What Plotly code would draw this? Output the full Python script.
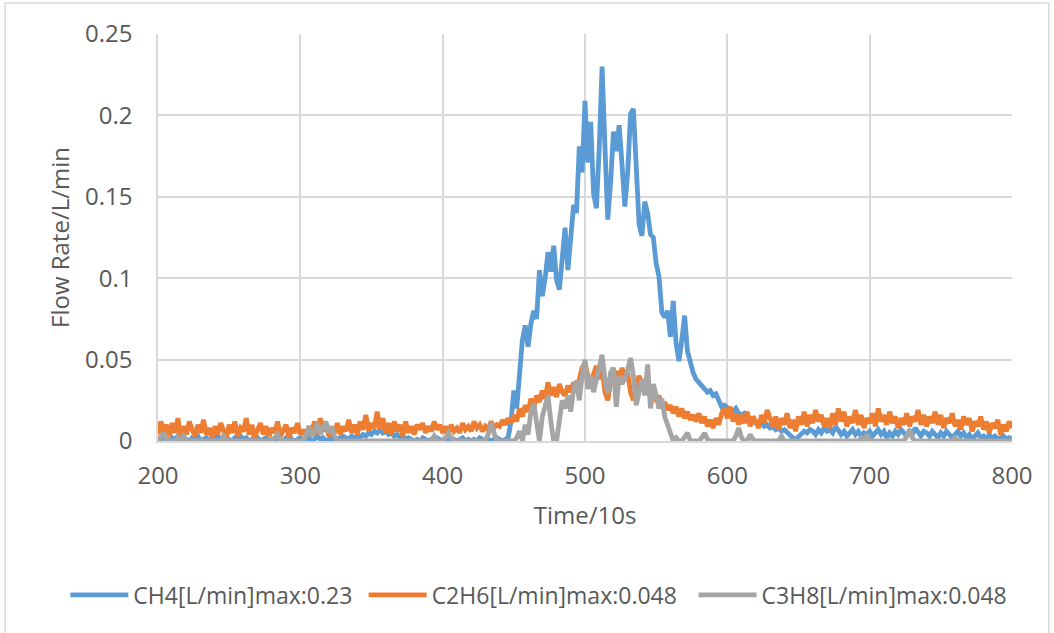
import plotly.graph_objects as go

TIME = list(range(200, 801, 2))

CH4 = [
    0.002, 0.000, 0.003, 0.001, 0.000, 0.002, 0.001, 0.003, 0.000, 0.002,
    0.001, 0.000, 0.002, 0.001, 0.003, 0.000, 0.001, 0.002, 0.000, 0.001,
    0.002, 0.003, 0.001, 0.000, 0.002, 0.001, 0.000, 0.002, 0.001, 0.003,
    0.001, 0.002, 0.000, 0.001, 0.003, 0.002, 0.000, 0.001, 0.002, 0.000,
    0.001, 0.000, 0.002, 0.001, 0.000, 0.002, 0.003, 0.001, 0.000, 0.001,
    0.002, 0.000, 0.001, 0.002, 0.000, 0.001, 0.003, 0.001, 0.002, 0.000,
    0.001, 0.002, 0.000, 0.001, 0.002, 0.003, 0.002, 0.001, 0.003, 0.002,
    0.003, 0.002, 0.004, 0.003, 0.005, 0.004, 0.006, 0.005, 0.007, 0.005,
    0.006, 0.004, 0.005, 0.003, 0.004, 0.002, 0.003, 0.001, 0.002, 0.001,
    0.000, 0.001, 0.000, 0.002, 0.001, 0.000, 0.001, 0.000, 0.002, 0.001,
    0.000, 0.001, 0.002, 0.000, 0.001, 0.000, 0.001, 0.002, 0.000, 0.001,
    0.000, 0.001, 0.000, 0.002, 0.001, 0.000, 0.001, 0.000, 0.001, 0.002,
    0.001, 0.000, 0.001, 0.002, 0.012, 0.031, 0.020, 0.042, 0.062, 0.071,
    0.058, 0.072, 0.080, 0.075, 0.105, 0.089, 0.100, 0.116, 0.104, 0.120,
    0.099, 0.093, 0.110, 0.131, 0.105, 0.128, 0.145, 0.140, 0.181, 0.165,
    0.209, 0.171, 0.196, 0.152, 0.143, 0.180, 0.230, 0.181, 0.136, 0.159,
    0.190, 0.178, 0.194, 0.170, 0.144, 0.165, 0.201, 0.204, 0.171, 0.133,
    0.126, 0.147, 0.140, 0.127, 0.125, 0.109, 0.101, 0.079, 0.076, 0.080,
    0.064, 0.086, 0.060, 0.049, 0.062, 0.077, 0.055, 0.048, 0.042, 0.038,
    0.036, 0.034, 0.033, 0.030, 0.031, 0.028, 0.029, 0.024, 0.021, 0.022,
    0.020, 0.019, 0.018, 0.020, 0.017, 0.016, 0.017, 0.015, 0.013, 0.012,
    0.011, 0.010, 0.011, 0.009, 0.010, 0.008, 0.009, 0.007, 0.008, 0.006,
    0.007, 0.005, 0.004, 0.002, 0.001, 0.003, 0.004, 0.006, 0.005, 0.007,
    0.006, 0.004, 0.007, 0.005, 0.008, 0.006, 0.007, 0.005, 0.009, 0.006,
    0.004, 0.006, 0.003, 0.005, 0.007, 0.004, 0.006, 0.003, 0.005, 0.004,
    0.006, 0.003, 0.005, 0.007, 0.004, 0.006, 0.002, 0.005, 0.003, 0.006,
    0.004, 0.007, 0.005, 0.003, 0.006, 0.004, 0.008, 0.005, 0.003, 0.006,
    0.005, 0.003, 0.006, 0.004, 0.002, 0.005, 0.003, 0.006, 0.004, 0.002,
    0.004, 0.006, 0.003, 0.005, 0.002, 0.004, 0.001, 0.003, 0.005, 0.002,
    0.003, 0.001, 0.004, 0.002, 0.003, 0.001, 0.002, 0.003, 0.001, 0.002,
    0.001,
]

C2H6 = [
    0.004, 0.012, 0.006, 0.010, 0.003, 0.011, 0.005, 0.014, 0.002, 0.009,
    0.004, 0.012, 0.007, 0.003, 0.010, 0.005, 0.013, 0.004, 0.008, 0.002,
    0.009, 0.004, 0.011, 0.006, 0.002, 0.010, 0.005, 0.012, 0.003, 0.008,
    0.006, 0.014, 0.004, 0.010, 0.002, 0.007, 0.011, 0.004, 0.009, 0.003,
    0.008, 0.005, 0.012, 0.003, 0.006, 0.010, 0.002, 0.008, 0.005, 0.011,
    0.004, 0.007, 0.003, 0.009, 0.006, 0.012, 0.004, 0.014, 0.006, 0.010,
    0.003, 0.008, 0.005, 0.011, 0.004, 0.009, 0.006, 0.013, 0.005, 0.010,
    0.004, 0.012, 0.007, 0.016, 0.006, 0.011, 0.008, 0.018, 0.007, 0.014,
    0.005, 0.011, 0.004, 0.012, 0.006, 0.010, 0.003, 0.012, 0.005, 0.009,
    0.004, 0.010, 0.007, 0.011, 0.005, 0.009, 0.006, 0.012, 0.007, 0.010,
    0.005, 0.009, 0.004, 0.010, 0.006, 0.008, 0.005, 0.011, 0.007, 0.009,
    0.006, 0.012, 0.008, 0.010, 0.006, 0.009, 0.007, 0.012, 0.008, 0.010,
    0.009, 0.013, 0.010, 0.014, 0.011, 0.016, 0.012, 0.020, 0.015, 0.022,
    0.018, 0.026, 0.020, 0.028, 0.024, 0.031, 0.026, 0.036, 0.028, 0.033,
    0.027, 0.035, 0.030, 0.028, 0.034, 0.030, 0.036, 0.032, 0.038, 0.045,
    0.048, 0.040, 0.036, 0.042, 0.046, 0.038, 0.044, 0.030, 0.025, 0.036,
    0.040, 0.043, 0.035, 0.045, 0.038, 0.042, 0.030, 0.025, 0.033, 0.040,
    0.036, 0.030, 0.034, 0.027, 0.030, 0.024, 0.028, 0.020, 0.024, 0.019,
    0.022, 0.017, 0.021, 0.015, 0.020, 0.014, 0.018, 0.013, 0.016, 0.012,
    0.017, 0.011, 0.015, 0.009, 0.013, 0.008, 0.014, 0.010, 0.017, 0.020,
    0.014, 0.021, 0.012, 0.017, 0.010, 0.016, 0.011, 0.018, 0.009, 0.015,
    0.012, 0.008, 0.016, 0.011, 0.019, 0.013, 0.009, 0.015, 0.007, 0.014,
    0.010, 0.017, 0.008, 0.013, 0.006, 0.015, 0.010, 0.018, 0.009, 0.016,
    0.011, 0.019, 0.012, 0.016, 0.009, 0.014, 0.008, 0.017, 0.010, 0.020,
    0.012, 0.018, 0.009, 0.015, 0.011, 0.019, 0.010, 0.016, 0.008, 0.014,
    0.011, 0.017, 0.009, 0.020, 0.012, 0.016, 0.010, 0.018, 0.011, 0.015,
    0.008, 0.014, 0.010, 0.017, 0.009, 0.015, 0.012, 0.019, 0.010, 0.016,
    0.009, 0.015, 0.011, 0.018, 0.010, 0.016, 0.008, 0.014, 0.011, 0.017,
    0.009, 0.013, 0.007, 0.015, 0.010, 0.014, 0.006, 0.012, 0.009, 0.015,
    0.007, 0.012, 0.005, 0.011, 0.008, 0.013, 0.004, 0.010, 0.006, 0.012,
    0.008,
]

C3H8 = [
    0.000, 0.002, 0.005, 0.001, 0.000, 0.000, 0.000, 0.002, 0.000, 0.003,
    0.000, 0.000, 0.000, 0.000, 0.000, 0.000, 0.000, 0.000, 0.000, 0.000,
    0.000, 0.000, 0.000, 0.003, 0.000, 0.000, 0.000, 0.000, 0.000, 0.000,
    0.000, 0.000, 0.000, 0.000, 0.000, 0.000, 0.000, 0.000, 0.000, 0.000,
    0.000, 0.002, 0.004, 0.000, 0.000, 0.000, 0.000, 0.000, 0.000, 0.000,
    0.000, 0.000, 0.004, 0.009, 0.003, 0.006, 0.011, 0.004, 0.008, 0.012,
    0.005, 0.009, 0.003, 0.000, 0.000, 0.000, 0.000, 0.000, 0.000, 0.000,
    0.000, 0.000, 0.000, 0.000, 0.000, 0.000, 0.000, 0.000, 0.000, 0.000,
    0.000, 0.000, 0.000, 0.000, 0.000, 0.000, 0.000, 0.000, 0.000, 0.000,
    0.000, 0.000, 0.000, 0.000, 0.000, 0.000, 0.000, 0.003, 0.000, 0.000,
    0.000, 0.002, 0.005, 0.002, 0.000, 0.000, 0.000, 0.000, 0.000, 0.000,
    0.000, 0.000, 0.000, 0.000, 0.000, 0.000, 0.004, 0.011, 0.005, 0.000,
    0.000, 0.000, 0.000, 0.000, 0.000, 0.000, 0.002, 0.006, 0.000, 0.010,
    0.004, 0.018, 0.023, 0.010, 0.000, 0.015, 0.022, 0.028, 0.012, 0.000,
    0.000, 0.012, 0.025, 0.020, 0.028, 0.018, 0.032, 0.037, 0.025, 0.040,
    0.050, 0.032, 0.040, 0.030, 0.038, 0.045, 0.053, 0.038, 0.029, 0.042,
    0.045, 0.021, 0.040, 0.035, 0.038, 0.044, 0.051, 0.040, 0.022, 0.030,
    0.038, 0.028, 0.047, 0.020, 0.035, 0.028, 0.020, 0.026, 0.015, 0.010,
    0.004, 0.000, 0.002, 0.000, 0.000, 0.003, 0.005, 0.000, 0.000, 0.000,
    0.000, 0.002, 0.005, 0.001, 0.000, 0.000, 0.000, 0.000, 0.000, 0.000,
    0.000, 0.000, 0.000, 0.003, 0.008, 0.002, 0.000, 0.000, 0.004, 0.001,
    0.000, 0.000, 0.000, 0.000, 0.000, 0.000, 0.000, 0.000, 0.000, 0.003,
    0.000, 0.000, 0.000, 0.000, 0.000, 0.000, 0.000, 0.000, 0.000, 0.000,
    0.000, 0.000, 0.000, 0.000, 0.000, 0.000, 0.000, 0.000, 0.000, 0.000,
    0.000, 0.000, 0.000, 0.000, 0.000, 0.000, 0.000, 0.002, 0.000, 0.004,
    0.000, 0.000, 0.000, 0.000, 0.000, 0.000, 0.000, 0.000, 0.000, 0.000,
    0.000, 0.000, 0.000, 0.003, 0.007, 0.002, 0.000, 0.000, 0.000, 0.000,
    0.000, 0.000, 0.000, 0.000, 0.000, 0.000, 0.000, 0.000, 0.000, 0.000,
    0.002, 0.000, 0.000, 0.000, 0.000, 0.000, 0.000, 0.000, 0.000, 0.000,
    0.000, 0.000, 0.000, 0.000, 0.000, 0.000, 0.000, 0.000, 0.000, 0.000,
    0.000,
]

SERIES = [
    ("CH4[L/min]max:0.23", CH4, "#5B9BD5", "legend"),
    ("C2H6[L/min]max:0.048", C2H6, "#ED7D31", "legend2"),
    ("C3H8[L/min]max:0.048", C3H8, "#A5A5A5", "legend3"),
]

X_TICKS = [200, 300, 400, 500, 600, 700, 800]
Y_TICKS = [0, 0.05, 0.1, 0.15, 0.2, 0.25]
Y_TICK_TEXT = ["0", "0.05", "0.1", "0.15", "0.2", "0.25"]

FONT = "Open Sans, Lato, sans-serif"
TXT = "#595959"
GRID = "#D9D9D9"

fig = go.Figure()
for name, vals, color, leg in SERIES:
    fig.add_trace(go.Scatter(
        x=TIME, y=vals, mode="lines", name=name, legend=leg,
        line=dict(color=color, width=4.8),
    ))


def legend_box(xpos):
    return dict(orientation="h", xref="container", yref="container",
                x=xpos, xanchor="left", y=0.06, yanchor="middle",
                font=dict(size=23, color=TXT), itemwidth=58,
                bgcolor="rgba(0,0,0,0)")


fig.update_layout(
    width=1054, height=633,
    margin=dict(l=158, r=42, t=34, b=192, autoexpand=False),
    paper_bgcolor="white", plot_bgcolor="white",
    font=dict(family=FONT, color=TXT, size=24),
    showlegend=True,
    legend=legend_box(0.062),
    legend2=legend_box(0.345),
    legend3=legend_box(0.658),
    xaxis=dict(range=[200, 800], tickvals=X_TICKS, showgrid=True, gridcolor=GRID,
               gridwidth=1.5, zeroline=False, showline=True, linecolor=GRID, linewidth=1.5,
               ticks="", ticklabelstandoff=12, tickfont=dict(size=24, color=TXT),
               title=dict(text="Time/10s", font=dict(size=24, color=TXT), standoff=18)),
    yaxis=dict(range=[0, 0.25], tickvals=Y_TICKS, ticktext=Y_TICK_TEXT, showgrid=True,
               gridcolor=GRID, gridwidth=1.5, zeroline=False, showline=True, linecolor=GRID,
               linewidth=1.5, ticks="", ticklabelstandoff=19, tickfont=dict(size=24, color=TXT),
               title=dict(text="Flow Rate/L/min", font=dict(size=24, color=TXT), standoff=9)),
    shapes=[dict(type="rect", xref="paper", yref="paper", x0=-0.179, x1=1.043,
                 y0=-0.6, y1=1.076, line=dict(color="#D9D9D9", width=1.5),
                 fillcolor="rgba(0,0,0,0)", layer="below")],
)

fig.write_html("out.html", config={"displayModeBar": False},
               post_script="document.body.style.margin='0';")
